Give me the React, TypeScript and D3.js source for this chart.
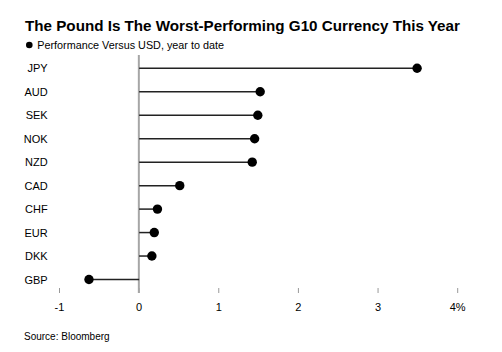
import React, { useEffect, useRef } from 'react';
import * as d3 from 'd3';

const currencies = ['JPY', 'AUD', 'SEK', 'NOK', 'NZD', 'CAD', 'CHF', 'EUR', 'DKK', 'GBP'];
const performance = [3.49, 1.52, 1.49, 1.45, 1.42, 0.51, 0.23, 0.19, 0.16, -0.63];
const tickValues = [-1, 0, 1, 2, 3, 4];

const W = 502;
const H = 352;
const FONT = '"Liberation Sans", Arial, Helvetica, sans-serif';

const App = () => {
    const svgRef = useRef<SVGSVGElement>(null);

    useEffect(() => {
        const svg = d3.select(svgRef.current);
        svg.selectAll('*').remove();

        const data = currencies.map((c, i) => ({ currency: c, value: performance[i] }));

        const x = d3.scaleLinear().domain([-1, 4]).range([59.5, 457.7]);
        const y = d3.scalePoint().domain(currencies).range([68.3, 279.5]);

        // title + legend
        svg.append('text')
            .attr('x', 25)
            .attr('y', 30.5)
            .attr('font-family', FONT)
            .attr('font-weight', 'bold')
            .attr('font-size', 15.2)
            .attr('fill', '#000')
            .text('The Pound Is The Worst-Performing G10 Currency This Year');

        svg.append('circle')
            .attr('cx', 29.3)
            .attr('cy', 45)
            .attr('r', 3.3)
            .attr('fill', '#000');

        svg.append('text')
            .attr('x', 37.3)
            .attr('y', 49)
            .attr('font-family', FONT)
            .attr('font-size', 10.8)
            .attr('fill', '#000')
            .text('Performance Versus USD, year to date');

        // ticks along the bottom
        const axis = svg.append('g');
        axis.selectAll('line')
            .data(tickValues)
            .enter()
            .append('line')
            .attr('x1', d => x(d))
            .attr('x2', d => x(d))
            .attr('y1', 288)
            .attr('y2', 293)
            .attr('stroke', '#999')
            .attr('stroke-width', 1);

        axis.selectAll('text')
            .data(tickValues)
            .enter()
            .append('text')
            .attr('x', d => x(d))
            .attr('y', 311)
            .attr('text-anchor', 'middle')
            .attr('font-family', FONT)
            .attr('font-size', 11)
            .attr('fill', '#000')
            .text(d => (d === 4 ? '4%' : String(d)));

        // zero line
        svg.append('line')
            .attr('x1', x(0) - 0.3)
            .attr('x2', x(0) - 0.3)
            .attr('y1', 55)
            .attr('y2', 293)
            .attr('stroke', '#a6a6a6')
            .attr('stroke-width', 2);

        // category labels
        svg.selectAll('.label')
            .data(data)
            .enter()
            .append('text')
            .attr('class', 'label')
            .attr('x', 47.7)
            .attr('y', d => y(d.currency)! + 4)
            .attr('text-anchor', 'end')
            .attr('font-family', FONT)
            .attr('font-size', 11)
            .attr('fill', '#000')
            .text(d => d.currency);

        // stems
        svg.selectAll('.stem')
            .data(data)
            .enter()
            .append('line')
            .attr('class', 'stem')
            .attr('x1', x(0))
            .attr('x2', d => x(d.value))
            .attr('y1', d => y(d.currency)!)
            .attr('y2', d => y(d.currency)!)
            .attr('stroke', '#222')
            .attr('stroke-width', 1.5);

        // dots
        svg.selectAll('.dot')
            .data(data)
            .enter()
            .append('circle')
            .attr('class', 'dot')
            .attr('cx', d => x(d.value))
            .attr('cy', d => y(d.currency)!)
            .attr('r', 4.7)
            .attr('fill', '#000');

        svg.append('text')
            .attr('x', 24)
            .attr('y', 339.5)
            .attr('font-family', FONT)
            .attr('font-size', 10)
            .attr('fill', '#000')
            .text('Source: Bloomberg');
    }, []);

    return (
        <svg
            ref={svgRef}
            width={W}
            height={H}
            style={{ position: 'absolute', left: 0, top: 0, background: '#fff' }}
        />
    );
};

export default App;
